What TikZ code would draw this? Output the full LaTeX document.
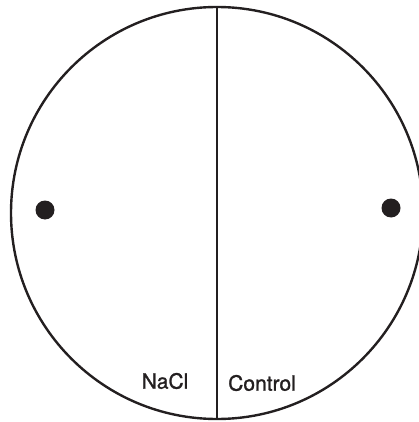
\documentclass[tikz,border=0pt]{standalone}
\usepackage{fontspec}
\setmainfont{TeX Gyre Heros}
\newfontfamily\lblfont{TeX Gyre Heros}[RawFeature={embolden=1.2}]
\definecolor{ink}{HTML}{231F20}
\begin{document}
\begin{tikzpicture}[x=1pt,y=-1pt,
  outline/.style={draw=ink,line width=2.4pt},
  dot/.style={circle,fill=ink,inner sep=0pt,minimum size=19pt},
  lbl/.style={text=ink,font=\lblfont\fontsize{21}{24}\selectfont,inner sep=0pt}]
\useasboundingbox (0,0) rectangle (419,422);
\clip (0,0) rectangle (419,422);
\coordinate (c) at (217,213);
\draw[outline] (c) circle[radius=206];
\coordinate (top) at (217,7);
\coordinate (bot) at (217,419);
\draw[outline] (top) -- (bot);
\node[dot] (d1) at (45,210) {};
\node[dot] (d2) at (391,208) {};
\node[lbl] (nacl) at (165,381) {NaCl};
\node[lbl] (ctrl) at (262,383) {Control};
\end{tikzpicture}
\end{document}
